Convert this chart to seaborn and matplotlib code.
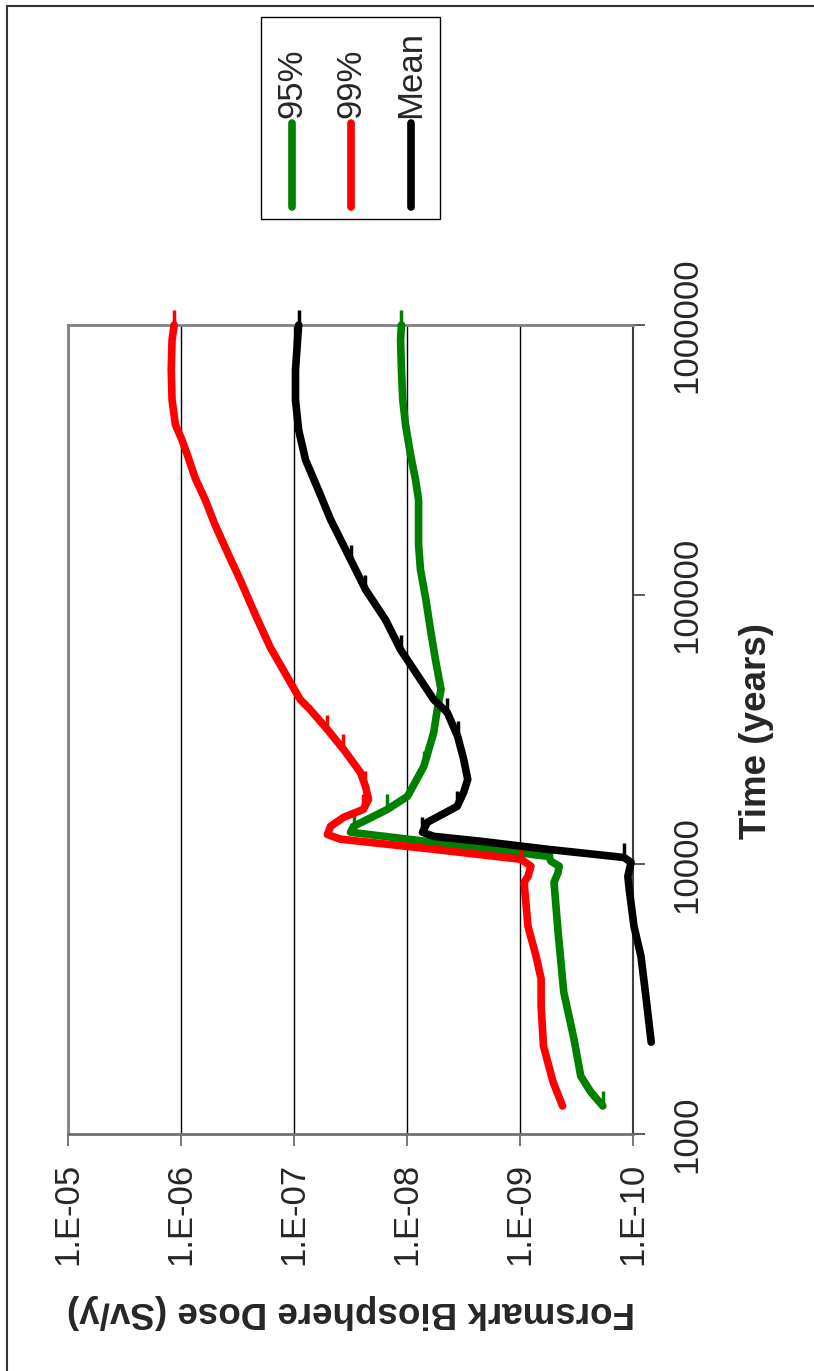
import matplotlib
matplotlib.use("Agg")
import matplotlib.pyplot as plt
from matplotlib.path import Path
from matplotlib.lines import Line2D
from matplotlib.patches import Rectangle
from matplotlib.ticker import NullLocator
import seaborn as sns

# Dados (tempo em anos, dose em Sv/y)
t95 = [1270, 1430, 1640, 2250, 3360, 5600, 8570, 9330, 9840, 10260, 10700, 11860,
       13150, 13830, 15990, 17870, 23070, 30800, 37500, 44500, 57400, 74100, 95700,
       123800, 153200, 224700, 266700, 330000, 426600, 527000, 681000, 880000, 1000000]
d95 = [1.85e-10, 2.36e-10, 2.9e-10, 3.33e-10, 4.1e-10, 4.6e-10, 5.0e-10, 4.6e-10, 4.5e-10,
       5.3e-10, 5.6e-10, 4.1e-9, 3.16e-8, 2.97e-8, 1.49e-8, 9.9e-9, 7.1e-9, 5.8e-9, 5.4e-9,
       5.0e-9, 5.6e-9, 6.2e-9, 6.8e-9, 7.6e-9, 7.9e-9, 7.9e-9, 8.4e-9, 9.3e-9, 1.03e-8,
       1.09e-8, 1.12e-8, 1.14e-8, 1.12e-8]

t99 = [1270, 1560, 2120, 2980, 3750, 4560, 5890, 8570, 9030, 9840, 10440, 11370, 12400,
       12900, 13830, 14930, 15990, 17420, 19450, 21900, 26700, 31600, 37500, 40800, 63700,
       84300, 113700, 140700, 181600, 224700, 271000, 321600, 374700, 426600, 527000,
       681000, 880000, 1000000]
d99 = [4.2e-10, 5.1e-10, 6.2e-10, 6.5e-10, 6.5e-10, 7.2e-10, 8.5e-10, 9.2e-10, 8.5e-10,
       8.0e-10, 9.8e-10, 5.8e-9, 3.9e-8, 5.06e-8, 4.75e-8, 3.65e-8, 2.43e-8, 2.19e-8,
       2.33e-8, 2.58e-8, 3.65e-8, 5.06e-8, 7.2e-8, 8.8e-8, 1.62e-7, 2.2e-7, 3.0e-7, 3.8e-7,
       5.0e-7, 6.1e-7, 7.5e-7, 8.6e-7, 9.8e-7, 1.12e-6, 1.2e-6, 1.22e-6, 1.2e-6, 1.15e-6]

tmean = [2190, 3250, 4560, 5890, 8070, 9030, 10170, 10600, 11370, 12170, 12700, 13150,
         14320, 16400, 18500, 20650, 24500, 29800, 36550, 40800, 48400, 62500, 80700,
         104500, 135000, 190000, 245000, 316000, 408000, 527000, 681000, 880000, 1000000]
dmean = [6.9e-11, 7.7e-11, 8.5e-11, 9.8e-11, 1.08e-10, 1.11e-10, 1.04e-10, 1.2e-10, 5.7e-10,
         2.2e-9, 5.8e-9, 7.3e-9, 6.6e-9, 3.6e-9, 3.15e-9, 2.9e-9, 3.15e-9, 3.56e-9, 4.4e-9,
         5.8e-9, 7.6e-9, 1.14e-8, 1.55e-8, 2.33e-8, 3.16e-8, 4.75e-8, 6.1e-8, 7.9e-8, 9.1e-8,
         9.7e-8, 9.7e-8, 9.3e-8, 9.1e-8]

# pontos com o pequeno traco
spur95 = [0, 9, 13, 14, 16, 17, 32]
spur99 = [10, 16, 18, 20, 21, 37]
spurmean = [7, 11, 13, 17, 18, 21, 23, 24, 32]

dose_ticks = [1e-5, 1e-6, 1e-7, 1e-8, 1e-9, 1e-10]
dose_labels = ["1.E-05", "1.E-06", "1.E-07", "1.E-08", "1.E-09", "1.E-10"]
time_ticks = [1e3, 1e4, 1e5, 1e6]
time_labels = ["1000", "10000", "100000", "1000000"]

series = [("95%", t95, d95, "#008000", spur95),
          ("99%", t99, d99, "#FF0000", spur99),
          ("Mean", tmean, dmean, "#000000", spurmean)]

sns.set_style("white")
plt.rcParams['font.family'] = ['Liberation Sans', 'DejaVu Sans']

W, H = 814, 1371
fig = plt.figure(figsize=(W / 100, H / 100), dpi=100)
ax = fig.add_axes([68 / W, 1 - 1134 / H, 565 / W, 809 / H])

spur = Path([(0, 0), (0, 1)])

# grafico "deitado": dose no eixo horizontal, tempo no vertical
for name, t, d, col, sp in series:
    sns.lineplot(x=d, y=t, sort=False, estimator=None, color=col, lw=5.5, ax=ax,
                 solid_capstyle='round', solid_joinstyle='round', clip_on=False,
                 marker=spur, markevery=sp, ms=22, mec=col, mew=2.5, zorder=3)

ax.set_xscale('log')
ax.set_yscale('log')
ax.set_xlim(1e-5, 1e-10)
ax.set_ylim(1e3, 1e6)
ax.xaxis.set_minor_locator(NullLocator())
ax.yaxis.set_minor_locator(NullLocator())

ax.set_xticks(dose_ticks)
ax.set_xticklabels(dose_labels, rotation=90)
ax.set_yticks(time_ticks)
ax.yaxis.tick_right()
ax.set_yticklabels(time_labels, rotation=90, va='center')
ax.tick_params(axis='x', length=8.6, width=1.2, color='#606060', pad=12,
               labelsize=25, bottom=True, top=False)
ax.tick_params(axis='y', length=8.6, width=1.2, color='#404040', pad=18,
               labelsize=25, right=True, left=False)

ax.grid(axis='x', color='black', lw=1)
ax.grid(axis='y', visible=False)
ax.set_axisbelow(True)

for s in ['left', 'top']:
    ax.spines[s].set_color('#808080')
    ax.spines[s].set_linewidth(2)
ax.spines['bottom'].set_color('#707070')
ax.spines['bottom'].set_linewidth(2)
ax.spines['right'].set_color('#404040')
ax.spines['right'].set_linewidth(1.5)

ax.set_xlabel("Forsmark Biosphere Dose (Sv/y)", fontsize=26.5, fontweight='bold',
              rotation=180, va='center', ha='center')
ax.xaxis.set_label_coords(0.5, (1134 - 1312) / 809)
ax.yaxis.set_label_position('right')
ax.set_ylabel("Time (years)", fontsize=26.5, fontweight='bold',
              rotation=90, va='center', ha='center')
ax.yaxis.set_label_coords((757 - 68) / 565, (1134 - 731) / 809)

# legenda feita a mao (texto girado)
fig.add_artist(Rectangle((261 / W, 1 - 219 / H), (440 - 261) / W, (219 - 17) / H,
                         transform=fig.transFigure, fill=False, ec='black', lw=1))
for (name, t, d, col, sp), xl in zip(series, [292, 351, 411]):
    fig.add_artist(Line2D([xl / W, xl / W], [1 - 123 / H, 1 - 207 / H], color=col, lw=5.5,
                          solid_capstyle='round', transform=fig.transFigure))
    fig.text(xl / W, 1 - 118 / H, name, rotation=90, ha='center', va='bottom', fontsize=25)

# moldura externa
fig.add_artist(Line2D([7 / W, 7 / W], [0, 1 - 6 / H], color='#333333', lw=1.5,
                      transform=fig.transFigure))
fig.add_artist(Line2D([7 / W, 1], [1 - 6 / H, 1 - 6 / H], color='#333333', lw=1.5,
                      transform=fig.transFigure))

fig.savefig('out.png', dpi=100)
